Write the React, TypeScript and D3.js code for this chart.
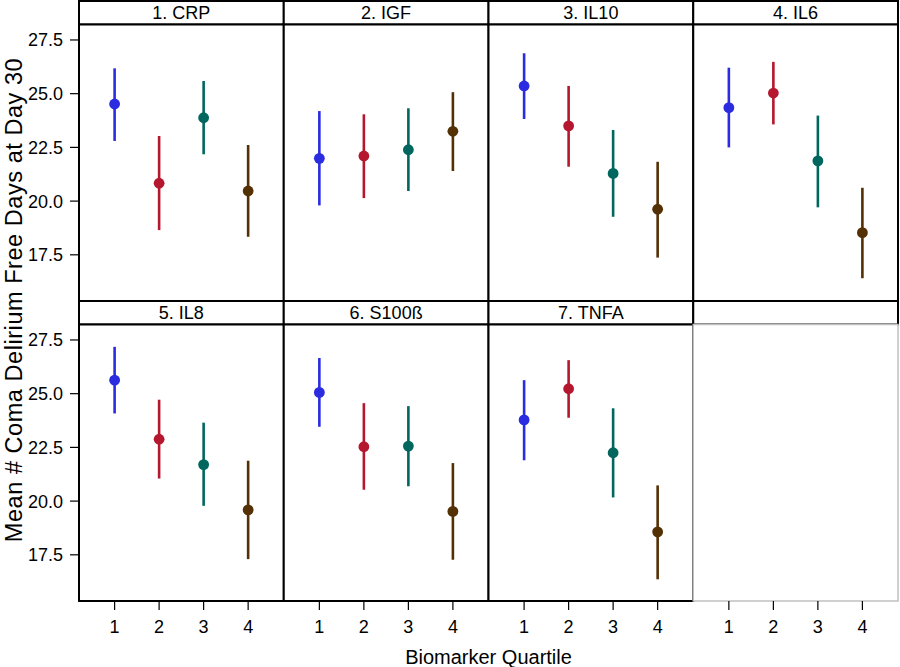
import React from "react";
import * as d3 from "d3";

const panels = ["1. CRP", "2. IGF", "3. IL10", "4. IL6", "5. IL8", "6. S100ß", "7. TNFA"];
const quartiles = [1, 2, 3, 4];
const means = [
  [24.52, 20.83, 23.88, 20.47],
  [21.99, 22.10, 22.39, 23.25],
  [25.36, 23.50, 21.29, 19.62],
  [24.35, 25.03, 21.87, 18.53],
  [25.63, 22.88, 21.70, 19.59],
  [25.06, 22.53, 22.56, 19.52],
  [23.78, 25.23, 22.25, 18.57],
];
const lower = [
  [22.80, 18.65, 22.18, 18.34],
  [19.80, 20.14, 20.47, 21.40],
  [23.82, 21.60, 19.27, 17.37],
  [22.50, 23.57, 19.71, 16.41],
  [24.08, 21.05, 19.78, 17.30],
  [23.46, 20.53, 20.69, 17.27],
  [21.90, 23.88, 20.17, 16.36],
];
const upper = [
  [26.18, 23.03, 25.59, 22.61],
  [24.19, 24.04, 24.32, 25.07],
  [26.88, 25.36, 23.31, 21.83],
  [26.21, 26.48, 23.98, 20.62],
  [27.18, 24.72, 23.65, 21.88],
  [26.66, 24.56, 24.42, 21.77],
  [25.63, 26.56, 24.32, 20.73],
];
const yTicks = [17.5, 20.0, 22.5, 25.0, 27.5];
const colors = ["#2b2be0", "#b5172f", "#01665e", "#543005"];
const yTitle = "Mean # Coma Delirium Free Days at Day 30";
const xTitle = "Biomarker Quartile";

export default function App() {
  const W = 900, H = 667;
  const gridLeft = 79, gridRight = 898;
  const colW = (gridRight - gridLeft) / 4;
  const headerH = 23.5, panelH = 276.5;
  const rowTops = [1, 301];
  const font = "Arial, 'Liberation Sans', sans-serif";

  const x = d3.scaleLinear().domain([0.2, 4.8]).range([0, colW]);
  const y = d3.scaleLinear().domain([15.35, 28.22]).range([panelH, 0]);

  const cells = [];
  for (let i = 0; i < 8; i++) {
    const r = Math.floor(i / 4), c = i % 4;
    const left = gridLeft + c * colW;
    const top = rowTops[r];
    const pTop = top + headerH;
    const has = i < panels.length;
    cells.push(
      <g key={i}>
        <rect x={left} y={top} width={colW} height={headerH} fill="#fff" stroke="#000" strokeWidth={2} />
        {has && (
          <text x={left + colW / 2} y={top + 18.3} textAnchor="middle" fontSize={18} fontFamily={font} fill="#000">
            {panels[i]}
          </text>
        )}
        <rect x={left} y={pTop} width={colW} height={panelH} fill="#fff" stroke={has ? "#000" : "#c0c0c0"} strokeWidth={has ? 2 : 1.5} />
        {has && quartiles.map((q, j) => (
          <g key={j}>
            <line x1={left + x(q)} x2={left + x(q)} y1={pTop + y(lower[i][j])} y2={pTop + y(upper[i][j])} stroke={colors[j]} strokeWidth={2.6} />
            <circle cx={left + x(q)} cy={pTop + y(means[i][j])} r={5.4} fill={colors[j]} />
          </g>
        ))}
        {c === 0 && yTicks.map((t) => (
          <g key={t}>
            <line x1={left - 9} x2={left} y1={pTop + y(t)} y2={pTop + y(t)} stroke="#000" strokeWidth={1.2} />
            <text x={left - 16} y={pTop + y(t) + 6.5} textAnchor="end" fontSize={18} fontFamily={font} fill="#000">
              {d3.format(".1f")(t)}
            </text>
          </g>
        ))}
        {r === 1 && quartiles.map((q) => (
          <g key={q}>
            <line x1={left + x(q)} x2={left + x(q)} y1={pTop + panelH} y2={pTop + panelH + 9} stroke="#000" strokeWidth={1.2} />
            <text x={left + x(q)} y={633} textAnchor="middle" fontSize={18} fontFamily={font} fill="#000">
              {q}
            </text>
          </g>
        ))}
      </g>
    );
  }

  return (
    <svg width={W} height={H} style={{ position: "absolute", left: 0, top: 0, background: "#fff" }}>
      <rect x={0} y={0} width={W} height={H} fill="#fff" />
      {cells}
      <text x={(gridLeft + gridRight) / 2} y={664} textAnchor="middle" fontSize={20} fontFamily={font} fill="#000">
        {xTitle}
      </text>
      <text transform={`translate(21.5, 300) rotate(-90)`} textAnchor="middle" fontSize={23.5} letterSpacing={0.55} fontFamily={font} fill="#000">
        {yTitle}
      </text>
    </svg>
  );
}
